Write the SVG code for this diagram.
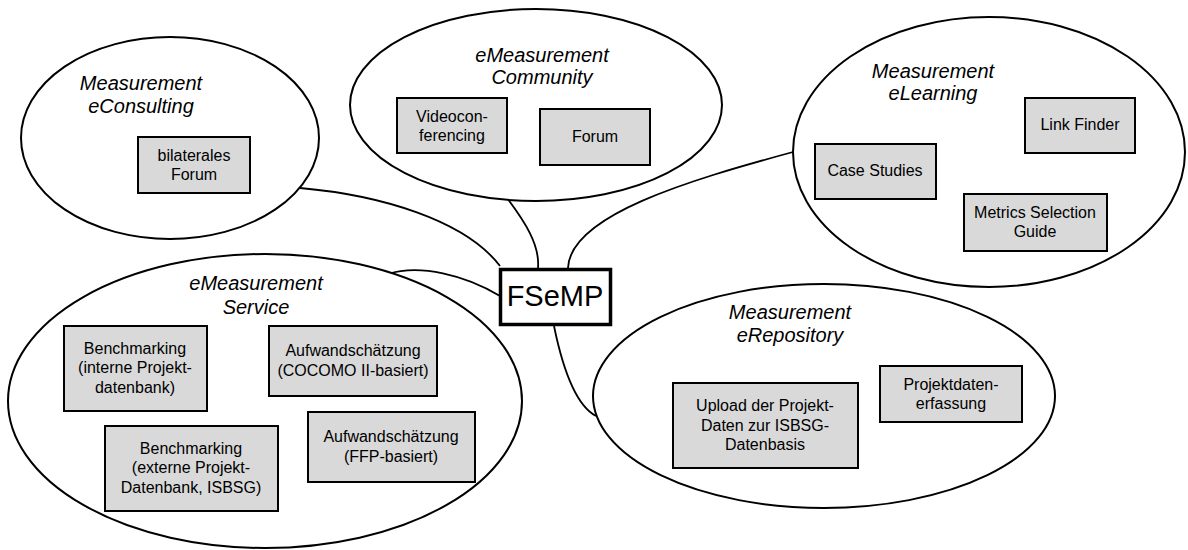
<svg xmlns="http://www.w3.org/2000/svg" width="1188" height="550" viewBox="0 0 1188 550">
<style>
.bg{fill:#ffffff}
.ell{fill:#ffffff;stroke:#000000;stroke-width:2}
.box{fill:#d9d9d9;stroke:#000000;stroke-width:2}
.hub{fill:#ffffff;stroke:#000000;stroke-width:3.5}
.con{fill:none;stroke:#000000;stroke-width:1.8}
.ttl{font-family:"Liberation Sans",Arial,sans-serif;font-size:20px;font-style:italic;text-anchor:middle;fill:#000}
.lbl{font-family:"Liberation Sans",Arial,sans-serif;font-size:16px;text-anchor:middle;fill:#000}
.hubt{font-family:"Liberation Sans",Arial,sans-serif;font-size:29px;text-anchor:middle;fill:#000}
</style>
<rect class="bg" x="0" y="0" width="1188" height="550"/>
<g id="connectors">
<path class="con" d="M300,188 C380,195 465,220 500,266"/>
<path class="con" d="M388,274 C420,264 465,275 500,296"/>
<path class="con" d="M507,198 C525,222 540,245 538,268"/>
<path class="con" d="M793,152 C690,180 570,215 568,268"/>
<path class="con" d="M554,326 C562,365 575,405 596,416"/>
</g>
<g id="eConsulting">
<ellipse class="ell" cx="170" cy="138" rx="149" ry="101"/>
<text class="ttl" x="141" y="90">Measurement</text>
<text class="ttl" x="141" y="113">eConsulting</text>
<g id="bilateralesForum">
<rect class="box" x="138" y="137" width="112" height="56"/>
<text class="lbl" x="194" y="161">bilaterales</text>
<text class="lbl" x="194" y="180">Forum</text>
</g>
</g>
<g id="eCommunity">
<ellipse class="ell" cx="536" cy="105" rx="186" ry="96"/>
<text class="ttl" x="542" y="62">eMeasurement</text>
<text class="ttl" x="542" y="84">Community</text>
<g id="videoconferencing">
<rect class="box" x="397" y="98" width="110" height="55"/>
<text class="lbl" x="452" y="122">Videocon-</text>
<text class="lbl" x="452" y="141">ferencing</text>
</g>
<g id="forum">
<rect class="box" x="540" y="109" width="110" height="56"/>
<text class="lbl" x="595" y="142">Forum</text>
</g>
</g>
<g id="eLearning">
<ellipse class="ell" cx="989" cy="152" rx="196" ry="135"/>
<text class="ttl" x="933" y="78">Measurement</text>
<text class="ttl" x="933" y="100">eLearning</text>
<g id="linkFinder">
<rect class="box" x="1025" y="98" width="110" height="55"/>
<text class="lbl" x="1080" y="130">Link Finder</text>
</g>
<g id="caseStudies">
<rect class="box" x="815" y="144" width="121" height="55"/>
<text class="lbl" x="875" y="176">Case Studies</text>
</g>
<g id="metricsGuide">
<rect class="box" x="964" y="194" width="143" height="57"/>
<text class="lbl" x="1035" y="218">Metrics Selection</text>
<text class="lbl" x="1035" y="237">Guide</text>
</g>
</g>
<g id="eService">
<ellipse class="ell" cx="265" cy="401" rx="257" ry="147"/>
<text class="ttl" x="256" y="290">eMeasurement</text>
<text class="ttl" x="256" y="314">Service</text>
<g id="benchIntern">
<rect class="box" x="64" y="326" width="143" height="85"/>
<text class="lbl" x="135" y="354">Benchmarking</text>
<text class="lbl" x="135" y="373">(interne Projekt-</text>
<text class="lbl" x="135" y="393">datenbank)</text>
</g>
<g id="aufwandCocomo">
<rect class="box" x="269" y="326" width="168" height="70"/>
<text class="lbl" x="353" y="356">Aufwandschätzung</text>
<text class="lbl" x="353" y="376">(COCOMO II-basiert)</text>
</g>
<g id="benchExtern">
<rect class="box" x="105" y="426" width="173" height="85"/>
<text class="lbl" x="191" y="454">Benchmarking</text>
<text class="lbl" x="191" y="473">(externe Projekt-</text>
<text class="lbl" x="191" y="493">Datenbank, ISBSG)</text>
</g>
<g id="aufwandFFP">
<rect class="box" x="308" y="412" width="167" height="70"/>
<text class="lbl" x="391" y="442">Aufwandschätzung</text>
<text class="lbl" x="391" y="462">(FFP-basiert)</text>
</g>
</g>
<g id="eRepository">
<ellipse class="ell" cx="824" cy="396" rx="231" ry="112"/>
<text class="ttl" x="790" y="319">Measurement</text>
<text class="ttl" x="790" y="342">eRepository</text>
<g id="upload">
<rect class="box" x="673" y="383" width="185" height="85"/>
<text class="lbl" x="765" y="411">Upload der Projekt-</text>
<text class="lbl" x="765" y="431">Daten zur ISBSG-</text>
<text class="lbl" x="765" y="450">Datenbasis</text>
</g>
<g id="projektdaten">
<rect class="box" x="880" y="366" width="142" height="56"/>
<text class="lbl" x="951" y="390">Projektdaten-</text>
<text class="lbl" x="951" y="409">erfassung</text>
</g>
</g>
<g id="FSeMP">
<rect class="hub" x="500.5" y="269.5" width="110" height="55"/>
<text class="hubt" x="555" y="306">FSeMP</text>
</g>
</svg>
